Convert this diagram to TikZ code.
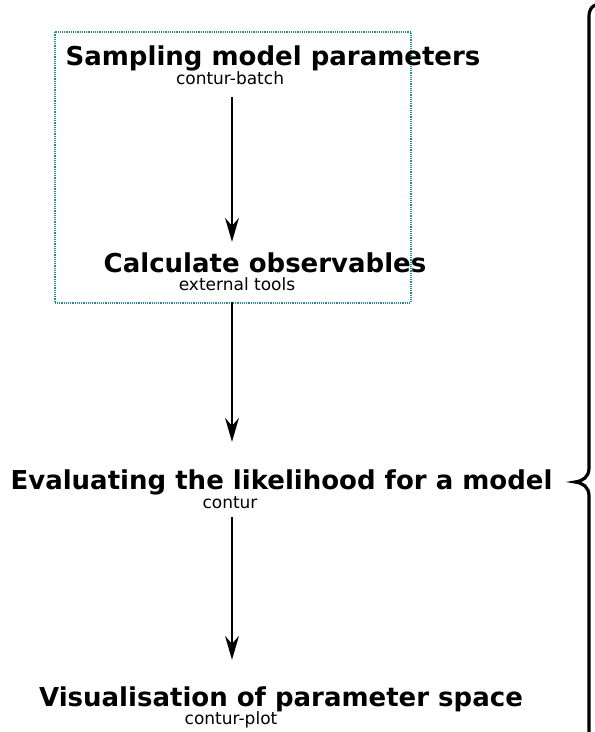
\documentclass[tikz,border=0pt]{standalone}
\usepackage{fontspec}
\setmainfont{DejaVu Sans}
\usetikzlibrary{arrows.meta}
\definecolor{boxteal}{RGB}{40,140,140}
\tikzset{
  titletext/.style={anchor=base, inner sep=0pt, text height=20pt, text depth=6pt, font=\fontsize{26}{30}\selectfont\bfseries},
  subtext/.style={anchor=base, inner sep=0pt, text height=13pt, text depth=4pt, font=\fontsize{17}{20}\selectfont},
  flowarrow/.style={line width=1.4pt, -{Stealth[length=24pt, width=14pt, inset=8pt]}},
  groupbox/.style={draw=boxteal, line width=1.5pt, dash pattern=on 1.2pt off 1pt},
  bracepath/.style={line width=3.2pt, line cap=round}
}
\begin{document}
\begin{tikzpicture}[x=1pt, y=-1pt]
\useasboundingbox (0,0) rectangle (595,732);
\coordinate (ax) at (232,0);
\node[groupbox, minimum width=356pt, minimum height=271pt, anchor=north west, inner sep=0pt] (box) at (54,31) {};
\node[titletext] (t1) at (273,65) {Sampling model parameters};
\node[subtext] (s1) at (230,84) {contur-batch};
\node[titletext] (t2) at (265,272) {Calculate observables};
\node[subtext] (s2) at (237,290) {external tools};
\node[titletext] (t3) at (281.5,489) {Evaluating the likelihood for a model};
\node[subtext] (s3) at (230,508) {contur};
\node[titletext] (t4) at (281,706) {Visualisation of parameter space};
\node[subtext] (s4) at (231,724) {contur-plot};
\draw[flowarrow, shorten <=9pt, shorten >=10pt] (s1.south -| ax) -- (t2.north -| ax);
\draw[flowarrow, shorten <=8pt, shorten >=27pt] (s2.south -| ax) -- (t3.north -| ax);
\draw[flowarrow, shorten <=5pt, shorten >=26pt] (s3.south -| ax) -- (t4.north -| ax);
\draw[bracepath] (599,4) .. controls (592,5) and (589,9) .. (589,17) -- (589,468)
  .. controls (589,477) and (583,481) .. (575,482)
  .. controls (583,483) and (589,487) .. (589,496) -- (589,745);
\end{tikzpicture}
\end{document}
